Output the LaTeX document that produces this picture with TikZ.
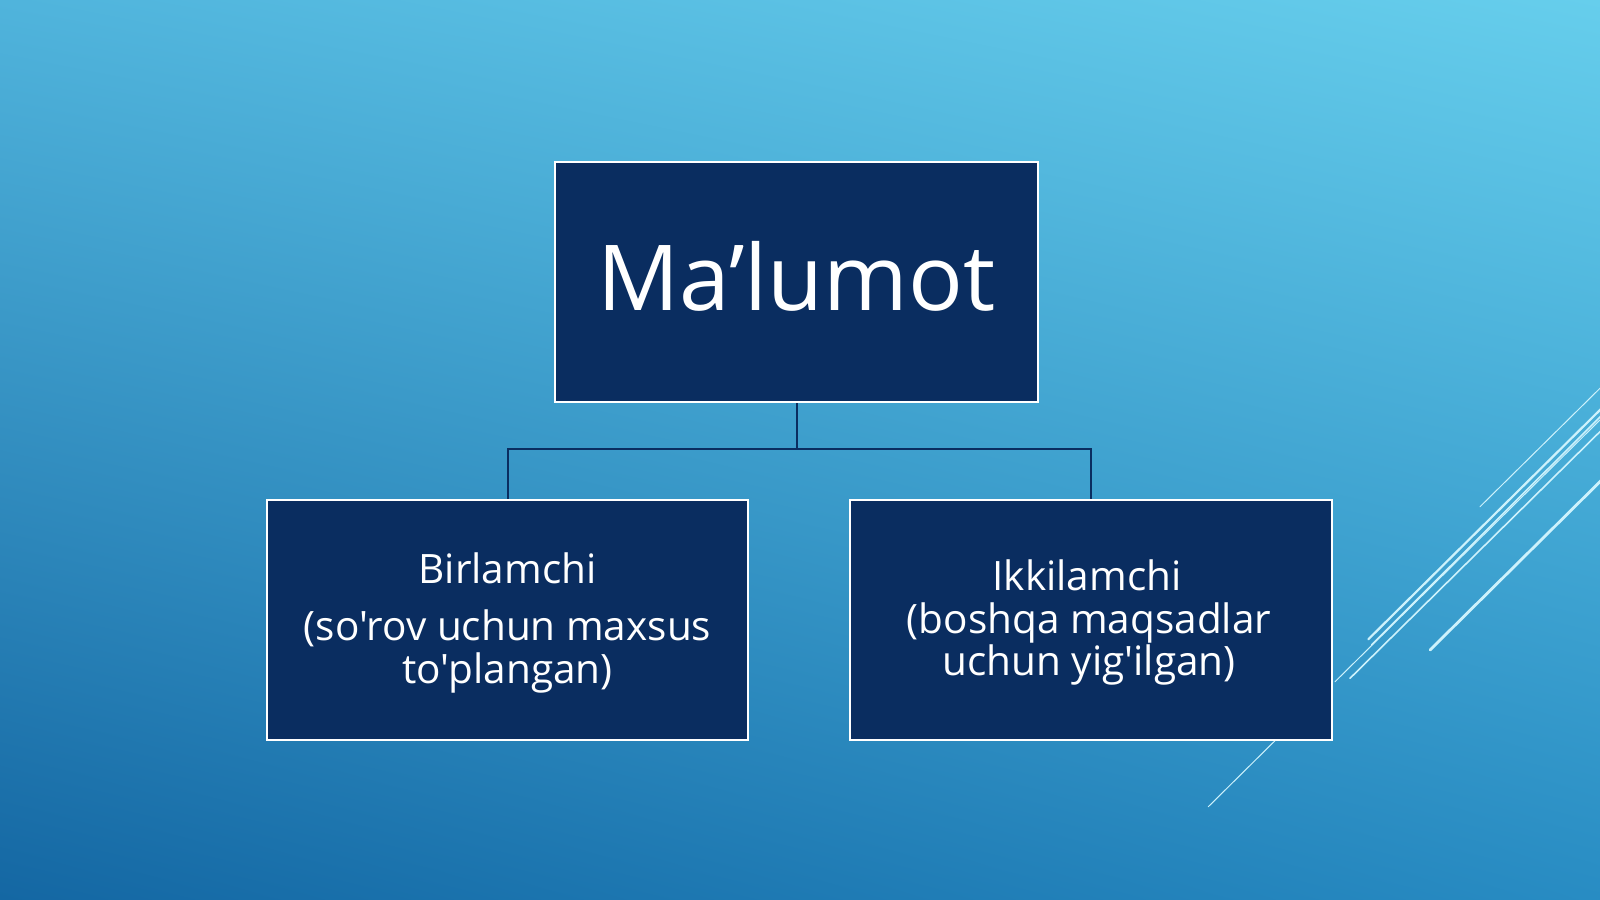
\documentclass[tikz,border=0pt]{standalone}
\usepackage{fontspec}
\newfontfamily\osans{Open Sans}
\usetikzlibrary{shadings}
\begin{document}
\begin{tikzpicture}[x=1pt,y=-1pt,
  box/.style={draw=white,line width=2pt,fill=navy,inner sep=0pt},
  link/.style={draw=navy,line width=2pt},
  deco/.style={draw=decoc,line cap=round},
  lbl/.style={text=white,anchor=base,inner sep=0pt,font=\osans\fontsize{40.5}{43}\selectfont}]
\definecolor{navy}{RGB}{10,45,96}
\definecolor{decoc}{RGB}{205,242,252}
\definecolor{cTL}{RGB}{80,180,220}
\definecolor{cTR}{RGB}{102,206,236}
\definecolor{cBL}{RGB}{20,103,163}
\definecolor{cBR}{RGB}{40,140,195}
\useasboundingbox (0,0) rectangle (1600,899);
\shade[upper left=cTL,upper right=cTR,lower left=cBL,lower right=cBR] (0,0) rectangle (1600,899);
\begin{scope}
\clip (0,0) rectangle (1600,899);
\draw[deco,line width=1pt] (1480,506.7) -- (1605,383.3);
\draw[deco,line width=2.2pt] (1368.3,639.3) -- (1605,405);
\draw[deco,line width=1.6pt] (1371.7,644.7) -- (1605,412);
\draw[deco,line width=1pt] (1335,681.7) -- (1605,415);
\draw[deco,line width=1.6pt] (1350,678.3) -- (1605,426.7);
\draw[deco,line width=2.8pt] (1430,650) -- (1605,476.7);
\draw[deco,line width=1pt] (1275,740.7) -- (1208.3,806.7);
\end{scope}
\node[box,minimum width=483pt,minimum height=240pt] (top) at (796.5,282) {};
\node[box,minimum width=481pt,minimum height=240pt] (left) at (507.5,620) {};
\node[box,minimum width=482pt,minimum height=240pt] (right) at (1091,620) {};
\coordinate (j) at (796.5,449);
\draw[link] (top.south) -- (j);
\draw[link] (j) -| (left.north);
\draw[link] (j) -| (right.north);
\node[text=white,anchor=base,inner sep=0pt,font=\osans\fontsize{91}{100}\selectfont] (title) at (796.5,310) {Ma’lumot};
\node[lbl] (l1) at (507.5,583) {Birlamchi};
\node[lbl] (l2) at (507.5,640) {(so'rov uchun maxsus};
\node[lbl] (l3) at (507.5,683) {to'plangan)};
\node[lbl] (r1) at (1087,590) {Ikkilamchi};
\node[lbl] (r2) at (1089,633) {(boshqa maqsadlar};
\node[lbl] (r3) at (1089,675) {uchun yig'ilgan)};
\end{tikzpicture}
\end{document}
